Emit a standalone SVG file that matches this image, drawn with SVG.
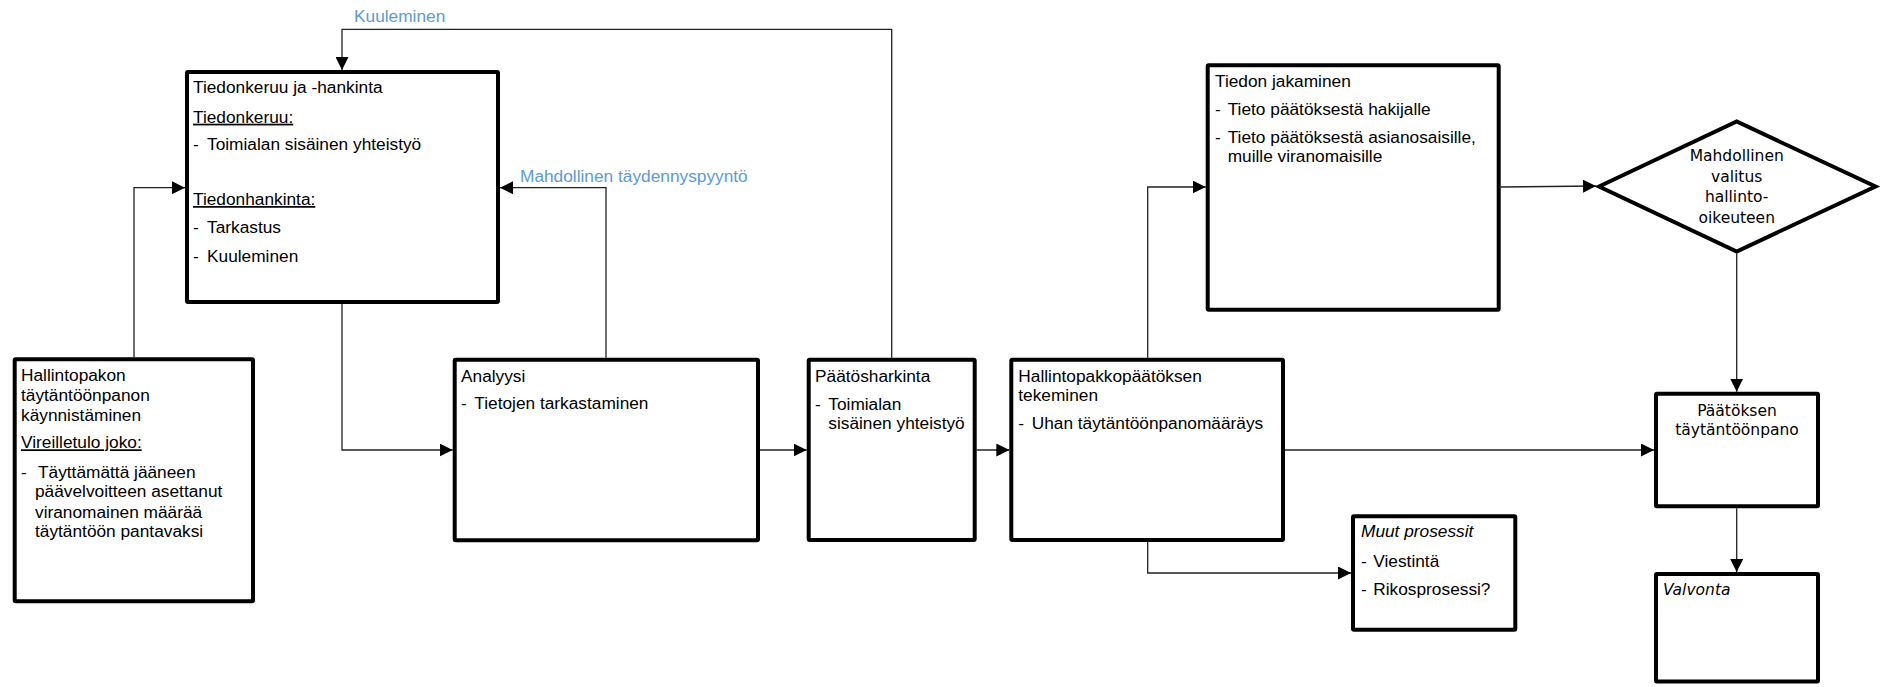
<svg xmlns="http://www.w3.org/2000/svg" width="1887" height="687" viewBox="0 0 1887 687">
<defs>
<style>
.box{fill:#fff;stroke:#000;stroke-width:4;}
.t{font-family:"Liberation Sans",Arial,sans-serif;font-size:17.3px;fill:#000;}
.u{text-decoration:underline;}
.i{font-style:italic;}
.v{font-family:"DejaVu Sans",Verdana,sans-serif;font-size:15.5px;fill:#000;}
.c{text-anchor:middle;}
.lbl{font-family:"Liberation Sans",Arial,sans-serif;font-size:17.3px;fill:#5B9BD5;}
.con{fill:none;stroke:#222;stroke-width:1.3;marker-end:url(#arr);}
</style>
<marker id="arr" markerUnits="userSpaceOnUse" markerWidth="13" markerHeight="13" refX="13" refY="6.5" orient="auto">
<path d="M0,0 L13,6.5 L0,13 z" fill="#000"/>
</marker>
</defs>
<rect width="1887" height="687" fill="#fff"/>

<g id="connectors">
<path class="con" d="M134,357.3 V187.7 H185"/>
<path class="con" d="M342,304 V450 H452.7"/>
<path class="con" d="M606,357.7 V187.7 H500"/>
<path class="con" d="M891.7,357.7 V29.3 H342 V70"/>
<path class="con" d="M760,450 H806.7"/>
<path class="con" d="M976.7,450 H1009.3"/>
<path class="con" d="M1147.7,357.7 V187 H1205.7"/>
<path class="con" d="M1147.7,542 V573 H1351"/>
<path class="con" d="M1285,450 H1654"/>
<path class="con" d="M1500.7,187 L1596,186"/>
<path class="con" d="M1736.7,253.5 V391.7"/>
<path class="con" d="M1736.7,508.3 V572"/>
<text class="lbl" x="354" y="21.7">Kuuleminen</text>
<text class="lbl" x="520" y="181.7">Mahdollinen täydennyspyyntö</text>
</g>

<g id="tiedonkeruu">
<rect class="box" x="187" y="72" width="311" height="230" rx="1"/>
<text class="t" x="193" y="93.3">Tiedonkeruu ja -hankinta</text>
<text class="t u" x="193" y="122.7">Tiedonkeruu:</text>
<text class="t" x="193" y="150">-</text><text class="t" x="207" y="150">Toimialan sisäinen yhteistyö</text>
<text class="t u" x="193" y="205">Tiedonhankinta:</text>
<text class="t" x="193" y="233.3">-</text><text class="t" x="207" y="233.3">Tarkastus</text>
<text class="t" x="193" y="261.7">-</text><text class="t" x="207" y="261.7">Kuuleminen</text>
</g>

<g id="kaynnistaminen">
<rect class="box" x="14.7" y="359.3" width="238.3" height="242" rx="1"/>
<text class="t" x="21" y="380.7">Hallintopakon</text>
<text class="t" x="21" y="400.7">täytäntöönpanon</text>
<text class="t" x="21" y="420.7">käynnistäminen</text>
<text class="t u" x="21" y="448.3">Vireilletulo joko:</text>
<text class="t" x="21" y="477.7">-</text><text class="t" x="38" y="477.7">Täyttämättä jääneen</text>
<text class="t" x="35" y="496.7">päävelvoitteen asettanut</text>
<text class="t" x="35" y="517.7">viranomainen määrää</text>
<text class="t" x="35" y="537.3">täytäntöön pantavaksi</text>
</g>

<g id="analyysi">
<rect class="box" x="454.7" y="359.7" width="303.3" height="180.6" rx="1"/>
<text class="t" x="461" y="381.7">Analyysi</text>
<text class="t" x="461" y="409.3">-</text><text class="t" x="474.3" y="409.3">Tietojen tarkastaminen</text>
</g>

<g id="paatosharkinta">
<rect class="box" x="808.7" y="359.7" width="166" height="180.3" rx="1"/>
<text class="t" x="815" y="381.7">Päätösharkinta</text>
<text class="t" x="815" y="410">-</text><text class="t" x="828.3" y="410">Toimialan</text>
<text class="t" x="828.3" y="429.3">sisäinen yhteistyö</text>
</g>

<g id="hallintopakkopaatos">
<rect class="box" x="1011.3" y="359.7" width="271.7" height="180.3" rx="1"/>
<text class="t" x="1018.3" y="381.7">Hallintopakkopäätöksen</text>
<text class="t" x="1018.3" y="401">tekeminen</text>
<text class="t" x="1018.3" y="429.3">-</text><text class="t" x="1031.7" y="429.3">Uhan täytäntöönpanomääräys</text>
</g>

<g id="tiedon-jakaminen">
<rect class="box" x="1207.7" y="65.3" width="291" height="244.4" rx="1"/>
<text class="t" x="1215" y="86.7">Tiedon jakaminen</text>
<text class="t" x="1215" y="115">-</text><text class="t" x="1227.7" y="115">Tieto päätöksestä hakijalle</text>
<text class="t" x="1215" y="143.3">-</text><text class="t" x="1227.7" y="143.3">Tieto päätöksestä asianosaisille,</text>
<text class="t" x="1227.7" y="162.3">muille viranomaisille</text>
</g>

<g id="muut-prosessit">
<rect class="box" x="1353" y="516.3" width="162.3" height="113.4" rx="1"/>
<text class="t i" x="1361" y="537.3">Muut prosessit</text>
<text class="t" x="1361" y="566.7">-</text><text class="t" x="1373.3" y="566.7">Viestintä</text>
<text class="t" x="1361" y="595">-</text><text class="t" x="1373.3" y="595">Rikosprosessi?</text>
</g>

<g id="valitus">
<polygon class="box" points="1599,186.5 1736.7,121.5 1875.5,186.5 1736.7,251.5"/>
<text class="v c" x="1736.7" y="161">Mahdollinen</text>
<text class="v c" x="1736.7" y="181.5">valitus</text>
<text class="v c" x="1736.7" y="202">hallinto-</text>
<text class="v c" x="1736.7" y="222.5">oikeuteen</text>
</g>

<g id="taytantoonpano">
<rect class="box" x="1656" y="393.7" width="162" height="112.6" rx="1"/>
<text class="v c" x="1737" y="416.3">Päätöksen</text>
<text class="v c" x="1737" y="434.7">täytäntöönpano</text>
</g>

<g id="valvonta">
<rect class="box" x="1656" y="574" width="162" height="107.5" rx="1"/>
<text class="v i" x="1663" y="594.7">Valvonta</text>
</g>
</svg>
